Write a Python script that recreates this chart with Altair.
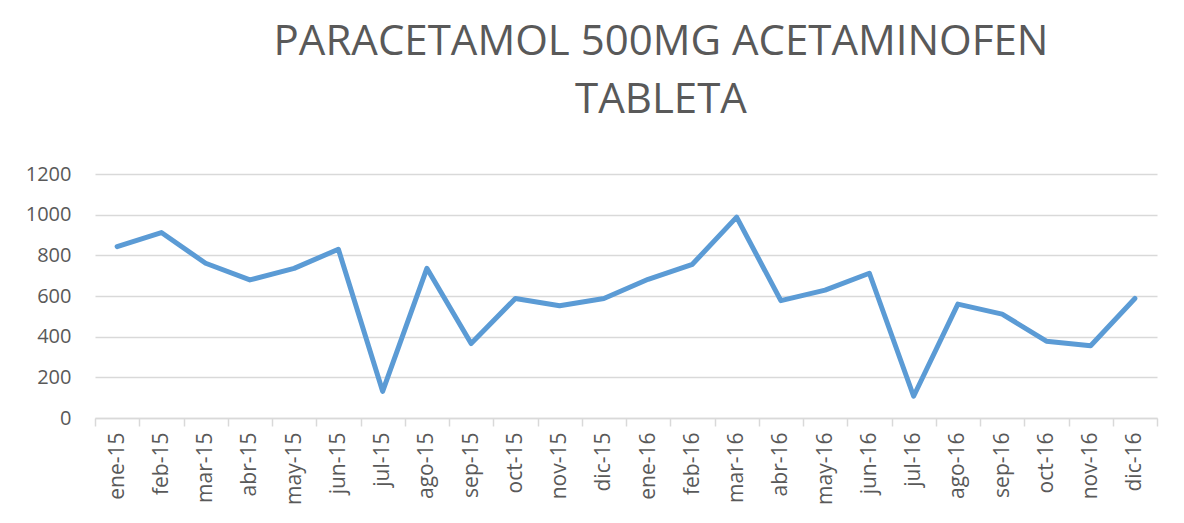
import altair as alt
import pandas as pd

months = ["ene-15", "feb-15", "mar-15", "abr-15", "may-15", "jun-15",
          "jul-15", "ago-15", "sep-15", "oct-15", "nov-15", "dic-15",
          "ene-16", "feb-16", "mar-16", "abr-16", "may-16", "jun-16",
          "jul-16", "ago-16", "sep-16", "oct-16", "nov-16", "dic-16"]
values = [843, 912, 761, 679, 736, 830, 131, 736, 366, 588, 552, 588,
          682, 756, 988, 577, 629, 712, 107, 560, 511, 378, 355, 588]
y_ticks = [0, 200, 400, 600, 800, 1000, 1200]
title_lines = ["PARACETAMOL 500MG ACETAMINOFEN", "TABLETA"]

df = pd.DataFrame({"i": list(range(len(months))), "mes": months, "valor": values})

label_expr = "[" + ",".join("'" + m + "'" for m in months) + "][datum.value]"
n = len(months)
x_scale = alt.Scale(domain=[-0.5, n - 0.5], nice=False, zero=False)
y_scale = alt.Scale(domain=[0, 1200], nice=False)
font = "Open Sans"
grey = "#595959"

y_axis = alt.Axis(values=y_ticks, format="d", grid=True, gridColor="#d9d9d9", gridWidth=1.5,
                  domain=False, ticks=False, labelPadding=24, labelFont=font,
                  labelFontSize=20, labelColor=grey)

line = alt.Chart(df).mark_line(color="#5B9BD5", strokeWidth=5, strokeCap="round", strokeJoin="round").encode(
    x=alt.X("i:Q", scale=x_scale, title=None,
            axis=alt.Axis(values=list(range(n)), labelExpr=label_expr, labelAngle=-90,
                          labelAlign="right", labelBaseline="middle",
                          ticks=False, grid=False, domain=True, domainColor="#d9d9d9",
                          domainWidth=1.5, labelPadding=14, labelFont=font, labelFontSize=21,
                          labelColor=grey, orient="bottom", labelOverlap=False)),
    y=alt.Y("valor:Q", scale=y_scale, title=None, axis=y_axis),
)

ticks_layer = alt.Chart(df).mark_line(opacity=0).encode(
    x=alt.X("i:Q", scale=x_scale, title=None,
            axis=alt.Axis(values=[k - 0.5 for k in range(n + 1)], labels=False, ticks=True,
                          tickSize=8, tickColor="#d9d9d9", tickWidth=1.5, grid=False,
                          domain=False, orient="bottom")),
    y=alt.Y("valor:Q", scale=y_scale, title=None, axis=y_axis),
)

chart = alt.layer(ticks_layer, line).resolve_axis(x="independent").properties(
    width=1062, height=244,
    background="white",
    autosize=alt.AutoSizeParams(type="none"),
    padding={"left": 87, "top": 166, "right": 15, "bottom": 90},
    title=alt.TitleParams(text=title_lines, font=font, fontSize=42, fontWeight="normal",
                          color=grey, anchor="middle", offset=42, lineHeight=58, dx=35),
).configure_view(strokeWidth=0, stroke="transparent")

chart.save("out.html", embed_options={"renderer": "svg", "actions": False})
